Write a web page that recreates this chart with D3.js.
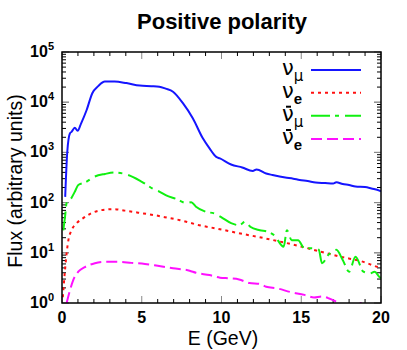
<!DOCTYPE html>
<html>
<head>
<meta charset="utf-8">
<script src="https://cdn.jsdelivr.net/npm/d3@7"></script>
<style>
  body { margin: 0; background: #fff; }
  text { font-family: "Liberation Sans", Arial, sans-serif; }
</style>
</head>
<body>
<svg width="407" height="350"></svg>
<script>
// numu
var numuE = [0.2, 0.33, 0.5, 0.6, 0.8, 0.98, 1.2, 1.54, 1.9, 2.27, 2.69, 3.3, 4.04, 4.875, 5.6, 6.1, 6.5, 6.96, 7.58, 8.2, 8.83, 9.25, 9.67, 9.9, 10.6, 11.3, 11.96, 12.2, 12.8, 13.2, 14.0, 14.5, 14.9, 15.4, 15.9, 16.5, 17.0, 17.2, 17.6, 18.0, 18.4, 19.0, 19.4, 19.9, 20];
var numuFlux = [130, 1020, 2400, 2570, 3100, 2700, 3800, 6920, 15100, 20900, 25700, 25700, 24000, 21400, 20900, 20400, 18600, 16200, 9550, 4790, 1905, 1200, 813, 759, 575, 501, 427, 457, 380, 355, 316, 300, 282, 269, 251, 245, 240, 255, 234, 224, 209, 204, 191, 174, 166];
// nue
var nueE = [0.05, 0.19, 0.29, 0.4, 0.6, 0.92, 1.33, 1.85, 2.48, 3.2, 3.94, 4.77, 5.8, 6.44, 7.4, 8.6, 9.9, 11.1, 12.4, 13.0, 14.8, 16.0, 17.5, 18.9, 19.8, 20];
var nueFlux = [1.3, 4.6, 9.8, 17.8, 28.2, 38.9, 49.0, 61.7, 70.8, 74.1, 69.2, 63.1, 56.2, 51.3, 44.7, 35.5, 29.5, 24.5, 20.4, 18.6, 13.8, 11.0, 8.3, 6.6, 5.2, 5.0];
// numubar
var numubarE = [0.08, 0.19, 0.29, 0.5, 0.81, 1.02, 1.44, 2.06, 2.69, 3.3, 4.14, 4.98, 5.8, 6.1, 6.5, 7.2, 7.8, 8.1, 8.4, 9.0, 9.6, 10.0, 10.6, 11.1, 11.5, 11.8, 12.4, 12.9, 13.3, 13.9, 14.1, 14.4, 14.8, 15.2, 15.6, 16.1, 16.3, 16.7, 17.2, 17.6, 18.0, 18.4, 18.9, 19.3, 19.6, 19.9, 20];
var numubarFlux = [28, 52, 98, 112, 166, 224, 251, 331, 372, 398, 355, 263, 182, 166, 141, 117, 98, 102, 83, 66, 60, 51, 39, 35.5, 41.7, 33.1, 28.2, 26.3, 22.4, 13.2, 28.2, 17.8, 17.8, 12.3, 12.3, 11.5, 6.2, 9.1, 11.5, 7.2, 4.2, 8.3, 4.2, 3.9, 4.2, 3.3, 3.1];
// nuebar
var nuebarE = [0.29, 0.5, 0.71, 1.02, 1.44, 2.06, 2.69, 3.5, 4.35, 5.2, 6.0, 6.96, 8.0, 8.4, 9.25, 9.9, 10.5, 11.1, 11.75, 12.4, 12.8, 13.5, 14.3, 15.2, 15.8, 16.3, 16.75, 17.3, 17.6, 18.0, 18.6, 18.7, 18.8, 19.5, 20];
var nuebarFlux = [1.0, 1.8, 2.9, 4.2, 5.2, 6.2, 6.6, 6.6, 6.3, 6.0, 5.5, 4.9, 4.4, 4.0, 3.6, 3.2, 3.1, 2.95, 2.5, 2.4, 2.1, 1.95, 1.66, 1.45, 1.29, 1.35, 1.23, 1.0, 0.8, 0.63, 0.8, 1.1, 0.63, 0.5, 0.5];

var xTicks = [0, 5, 10, 15, 20];
var yTicks = [1, 10, 100, 1000, 10000, 100000];

var svg = d3.select("svg");
var pLeft = 62, pRight = 381, pTop = 52, pBottom = 303;

var x = d3.scaleLinear().domain([0, 20]).range([pLeft, pRight]);
var y = d3.scaleLog().domain([1, 1e5]).range([pBottom, pTop]);

svg.append("defs").append("clipPath").attr("id", "clip")
  .append("rect").attr("x", pLeft).attr("y", pTop).attr("width", pRight - pLeft).attr("height", pBottom - pTop);

// ticks
var ticks = svg.append("g");
d3.range(0, 21).forEach(function(v) {
  var major = v % 5 == 0;
  var len = major ? 7 : 4;
  var col = major ? "#888" : "#000";
  ticks.append("line").attr("x1", x(v)).attr("x2", x(v)).attr("y1", pBottom).attr("y2", pBottom - len).attr("stroke", col);
  ticks.append("line").attr("x1", x(v)).attr("x2", x(v)).attr("y1", pTop).attr("y2", pTop + len).attr("stroke", col);
});
for (var p = 0; p < 5; p++) {
  for (var m = 1; m <= 10; m++) {
    var v = m * Math.pow(10, p);
    var major = (m == 1 || m == 10);
    var len = major ? 7 : 4;
    var col = major ? "#888" : "#000";
    ticks.append("line").attr("x1", pLeft).attr("x2", pLeft + len).attr("y1", y(v)).attr("y2", y(v)).attr("stroke", col);
    ticks.append("line").attr("x1", pRight).attr("x2", pRight - len).attr("y1", y(v)).attr("y2", y(v)).attr("stroke", col);
  }
}

// tick labels
svg.selectAll(".xl").data(xTicks).enter().append("text")
  .attr("x", function(d) { return x(d); })
  .attr("y", 323)
  .attr("text-anchor", "middle")
  .style("font-size", "16px").style("font-weight", "bold")
  .text(function(d) { return d; });

var yl = svg.selectAll(".yl").data(yTicks).enter().append("text")
  .attr("x", 54)
  .attr("y", function(d) { return y(d) + 5; })
  .attr("text-anchor", "end")
  .style("font-size", "16px").style("font-weight", "bold");
yl.append("tspan").text("10");
yl.append("tspan").attr("dy", -7).style("font-size", "11px").text(function(d) { return Math.round(Math.log10(d)); });

// series
var line = d3.line()
  .x(function(d) { return x(d[0]); })
  .y(function(d) { return y(d[1]); })
  .curve(d3.curveMonotoneX);

var series = [
  { E: numuE, F: numuFlux, color: "#1515ff", dash: null },
  { E: nueE, F: nueFlux, color: "#ff1010", dash: "3,4" },
  { E: numubarE, F: numubarFlux, color: "#10f010", dash: "19,5,4,6" },
  { E: nuebarE, F: nuebarFlux, color: "#ff10ff", dash: "11,5" }
];

var plot = svg.append("g").attr("clip-path", "url(#clip)");
series.forEach(function(s) {
  plot.append("path")
    .datum(d3.zip(s.E, s.F))
    .attr("d", line)
    .attr("fill", "none")
    .attr("stroke", s.color)
    .attr("stroke-width", 2)
    .attr("stroke-dasharray", s.dash);
});

// frame
svg.append("rect").attr("x", pLeft).attr("y", pTop).attr("width", pRight - pLeft).attr("height", pBottom - pTop)
  .attr("fill", "none").attr("stroke", "#000").attr("stroke-width", 1.5);

// legend
var legY = [70, 92.7, 115.7, 139];
var subs = ["μ", "e", "μ", "e"];
var leg = svg.append("g");
series.forEach(function(s, i) {
  leg.append("line").attr("x1", 311).attr("x2", 361).attr("y1", legY[i]).attr("y2", legY[i])
    .attr("stroke", s.color).attr("stroke-width", 2).attr("stroke-dasharray", s.dash);
  var t = leg.append("text").attr("x", 282).attr("y", legY[i] + 5).style("font-size", "21px");
  t.append("tspan").style("font-family", "DejaVu Sans, sans-serif").text("ν");
  t.append("tspan").attr("dy", 6)
    .style("font-size", "15px")
    .style("font-weight", subs[i] == "e" ? "bold" : "normal")
    .style("font-family", subs[i] == "e" ? null : "DejaVu Sans, sans-serif")
    .text(subs[i]);
  if (i >= 2) {
    leg.append("line").attr("x1", 286).attr("x2", 291).attr("y1", legY[i] - 9).attr("y2", legY[i] - 9)
      .attr("stroke", "#000").attr("stroke-width", 2);
  }
});

// titles
svg.append("text").attr("x", 222).attr("y", 29).attr("text-anchor", "middle")
  .style("font-size", "22px").style("font-weight", "bold").text("Positive polarity");
svg.append("text").attr("x", 223).attr("y", 345).attr("text-anchor", "middle")
  .style("font-size", "19.5px").text("E (GeV)");
svg.append("text").attr("transform", "translate(22,181) rotate(-90)").attr("text-anchor", "middle")
  .style("font-size", "19.5px").text("Flux (arbitrary units)");
</script>
</body>
</html>
